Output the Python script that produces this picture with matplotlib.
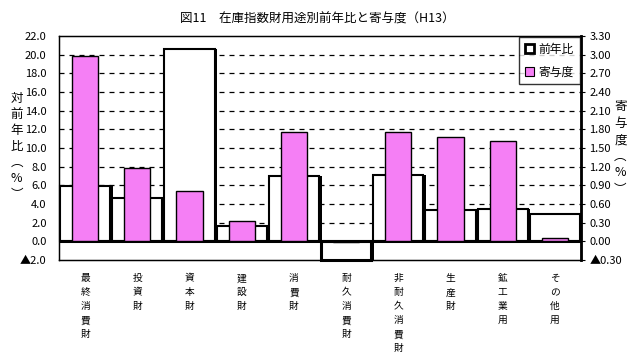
import matplotlib.pyplot as plt
from matplotlib.patches import Patch

plt.rcParams['font.family'] = ['Noto Sans CJK JP', 'DejaVu Sans']

categories = ["最終消費財", "投資財", "資本財", "建設財", "消費財",
              "耐久消費財", "非耐久消費財", "生産財", "鉱工業用", "その他用"]
yoy = [5.9, 4.6, 20.6, 1.6, 7.0, -2.0, 7.1, 3.4, 3.5, 2.9]
contrib = [2.97, 1.18, 0.81, 0.33, 1.76, -0.02, 1.75, 1.67, 1.61, 0.05]

left_ticks = [-2, 0, 2, 4, 6, 8, 10, 12, 14, 16, 18, 20, 22]
right_ticks = [-0.3, 0.0, 0.3, 0.6, 0.9, 1.2, 1.5, 1.8, 2.1, 2.4, 2.7, 3.0, 3.3]


def fmt(v, nd):
    s = "{:.{}f}".format(abs(v), nd)
    return "▲" + s if v < 0 else s


fig = plt.figure(figsize=(6.35, 3.59), dpi=100)
ax = fig.add_axes([0.093, 0.276, 0.822, 0.624])
x = list(range(len(categories)))

# dashed grid behind the bars
for t in left_ticks[2:-1]:
    ax.axhline(t, color='black', lw=0.9, ls=(0, (4, 4)), zorder=0)

# shadow then white bars
ax.bar([i + 0.05 for i in x], yoy, width=0.96, color='black', zorder=1)
bars = ax.bar(x, yoy, width=0.96, facecolor='white', edgecolor='black', lw=1.5, zorder=2)
bars[5].set_linewidth(2.2)
for b in bars:
    b.set_clip_on(False)
ax.axhline(0, color='black', lw=2.2, zorder=3)

ax.set_xlim(-0.5, len(categories) - 0.5)
ax.set_ylim(-2, 22)
ax.set_yticks(left_ticks)
ax.set_yticklabels([fmt(t, 1) for t in left_ticks], fontsize=8)
ax.tick_params(axis='y', length=0, pad=9)
ax.set_xticks([])
for s in ax.spines.values():
    s.set_linewidth(1.0)

ax2 = ax.twinx()
ax2.bar(x, contrib, width=0.5, color='#F57FF5', edgecolor='black', lw=1.0, zorder=2)
ax2.set_ylim(-0.3, 3.3)
ax2.set_yticks(right_ticks)
ax2.set_yticklabels([fmt(t, 2) for t in right_ticks], fontsize=8)
ax2.tick_params(axis='y', length=3, pad=3)
ax2.spines['right'].set_linewidth(2)

# category labels, stacked vertically
for i, c in enumerate(categories):
    ax.text(i, -0.06, "\n".join(c), transform=ax.get_xaxis_transform(),
            ha='center', va='top', fontsize=7, linespacing=1.5)

fig.text(0.5, 0.948, "図11　在庫指数財用途別前年比と寄与度（H13）",
         ha='center', va='center', fontsize=9)
fig.text(0.026, 0.592, "対\n前\n年\n比\n︵\n%\n︶", ha='center', va='center',
         fontsize=9, linespacing=1.3)
fig.text(0.977, 0.588, "寄\n与\n度\n︵\n%\n︶", ha='center', va='center',
         fontsize=9, linespacing=1.35)

handles = [Patch(facecolor='white', edgecolor='black', lw=2),
           Patch(facecolor='#F57FF5', edgecolor='black', lw=0.8)]
leg = ax2.legend(handles, ["前年比", "寄与度"], loc='upper right', fontsize=8.5,
                 frameon=True, fancybox=False, borderaxespad=0.1,
                 handlelength=0.8, handleheight=0.8, handletextpad=0.4,
                 borderpad=0.5, labelspacing=0.8)
leg.get_frame().set_edgecolor('black')
leg.get_frame().set_linewidth(1.0)

fig.savefig("out.png", dpi=100)
